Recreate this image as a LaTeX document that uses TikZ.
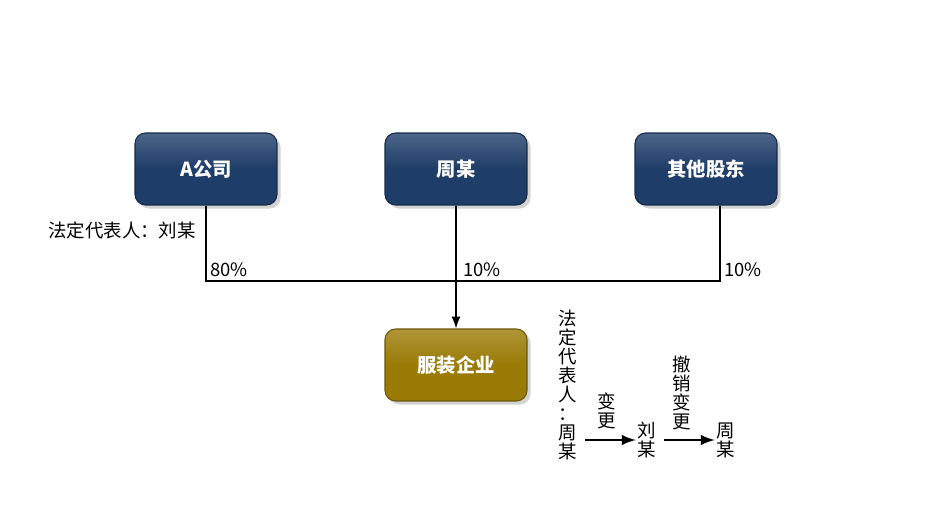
\documentclass[tikz,border=0pt]{standalone}
\usepackage{fontspec}
\setmainfont{Noto Sans CJK SC}
\usetikzlibrary{shadows}

\definecolor{boxblue}{HTML}{1F3D69}
\definecolor{boxgold}{HTML}{9A7B06}

\tikzset{
  holder/.style={rounded corners=6pt, minimum width=2.84cm, minimum height=1.44cm,
    draw=#1!70!black, line width=0.6pt, top color=#1!80!white, bottom color=#1,
    middle color=#1, drop shadow={opacity=0.35, shadow xshift=2pt, shadow yshift=-2pt},
    text=white, font=\fontsize{11}{13}\selectfont\bfseries},
  link/.style={line width=1.3pt},
  pct/.style={font=\fontsize{10.5}{12}\selectfont, inner sep=1pt},
  vtext/.style={align=center, inner sep=1pt, font=\fontsize{10.5}{10.8}\selectfont},
  change/.style={line width=1.7pt, -latex}
}

\begin{document}
\begin{tikzpicture}[x=0.02cm, y=-0.02cm]
    \useasboundingbox (0,0) rectangle (938,527);
    % Shareholders
    \node[holder=boxblue] (acomp) at (206,169) {A公司};
    \node[holder=boxblue] (zhou) at (456,169) {周某};
    \node[holder=boxblue] (others) at (706,169) {其他股东};
    % Company
    \node[holder=boxgold] (firm) at (456,365) {服装企业};
    % Legal representative of A
    \node[pct, anchor=east] (rep) at (198,230) {法定代表人：刘某};
    % Holding lines
    \coordinate (jl) at (206,281);
    \coordinate (jm) at (456,281);
    \coordinate (jr) at (720,281);
    \draw[link] (acomp.south) -- (jl) -- (jr) -- (jr |- others.south);
    \draw[link,-latex] (zhou.south) -- (firm.north);
    \node[pct, anchor=south west] (p80) at (208,279) {80\%};
    \node[pct, anchor=south west] (p10m) at (461,279) {10\%};
    \node[pct, anchor=south west] (p10r) at (722,279) {10\%};
    % Change of legal representative
    \node[vtext, anchor=south] (oldrep) at (568,462) {法\\定\\代\\表\\人\\：\\周\\某};
    \node[vtext] (liu) at (647,440) {刘\\某};
    \node[vtext] (back) at (726,440) {周\\某};
    \node[vtext] (chg) at (607,411) {变\\更};
    \node[vtext] (undo) at (682,393) {撤\\销\\变\\更};
    \draw[change] (oldrep.east |- liu.west) ++(6,0) -- (liu.west);
    \draw[change] (liu.east) ++(6,0) -- (back.west);
\end{tikzpicture}
\end{document}
